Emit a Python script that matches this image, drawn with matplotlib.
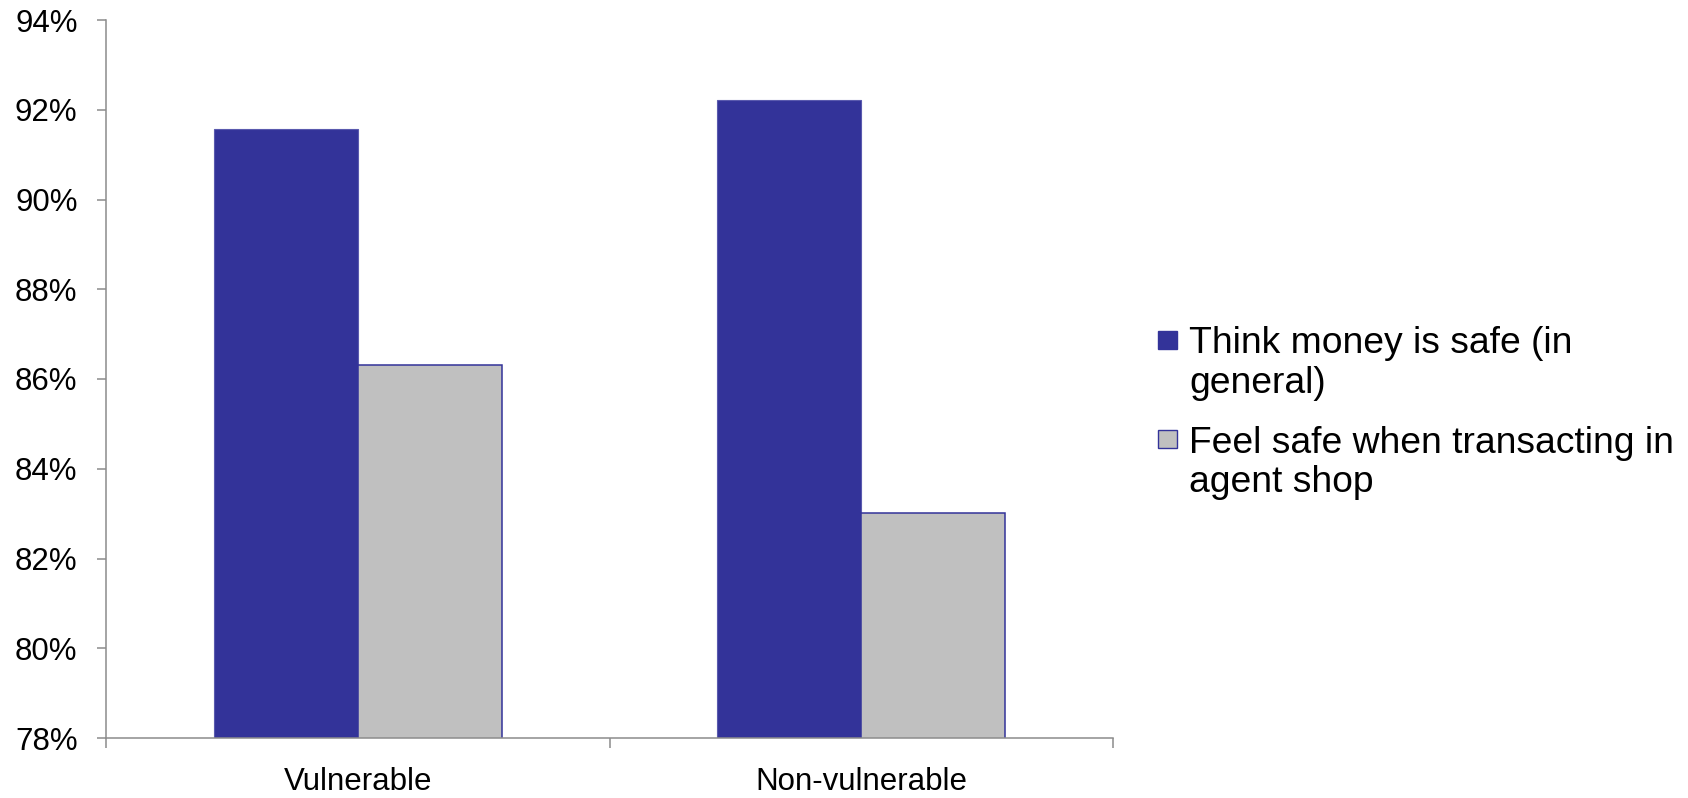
import matplotlib
matplotlib.use("Agg")
import matplotlib.pyplot as plt
from matplotlib.patches import Rectangle
import numpy as np

# Survey results: share of respondents (%)
categories = ["Vulnerable", "Non-vulnerable"]
series_names = ["Think money is safe (in\ngeneral)",
                "Feel safe when transacting in\nagent shop"]
think_safe = [91.56, 92.22]
feel_safe_agent = [86.31, 83.02]
y_ticks = [78, 80, 82, 84, 86, 88, 90, 92, 94]
y_tick_labels = [f"{t}%" for t in y_ticks]

BLUE = "#333399"
GRAY = "#C0C0C0"
AXIS = "#8C8C8C"

plt.rcParams["font.family"] = ["Liberation Sans", "DejaVu Sans"]

W, H = 1688, 798
fig = plt.figure(figsize=(W / 100, H / 100), dpi=100)

# axes rectangle in pixel terms
left_px, right_px, top_px, bottom_px = 106, 1113, 20, 738
ax = fig.add_axes([left_px / W, 1 - bottom_px / H,
                   (right_px - left_px) / W, (bottom_px - top_px) / H])

x = np.arange(len(categories))
width = 1 / 3.5  # gap width 150%
ax.bar(x - width / 2, think_safe, width, color=BLUE, edgecolor="#5a5aae",
       linewidth=0.8)
ax.bar(x + width / 2, feel_safe_agent, width, color=GRAY, edgecolor=BLUE,
       linewidth=1.1)

ax.set_ylim(78, 94)
ax.set_xlim(-0.5, len(categories) - 0.5)

ax.set_yticks(y_ticks)
ax.set_yticklabels(y_tick_labels, fontsize=22.5, color="black")
ax.tick_params(axis="y", direction="out", length=6.5, width=1.1,
               color=AXIS, pad=14)

# category boundaries get tick marks, centres get labels
ax.set_xticks(np.arange(-0.5, len(categories), 1.0))
ax.set_xticklabels([])
ax.tick_params(axis="x", which="major", direction="out", length=7.2,
               width=1.1, color=AXIS)
ax.set_xticks(x, minor=True)
ax.set_xticklabels(categories, minor=True, fontsize=22.5, color="black")
ax.tick_params(axis="x", which="minor", length=0, pad=21)

for side in ("top", "right"):
    ax.spines[side].set_visible(False)
for side in ("left", "bottom"):
    ax.spines[side].set_color(AXIS)
    ax.spines[side].set_linewidth(1.1)

# legend drawn with pixel placement
def px(xp, yp):
    return xp / W, 1 - yp / H

legend_fs = 26.8
entries = [
    (BLUE, "#333399", 331, 349, series_names[0].split("\n"), [353, 393]),
    (GRAY, BLUE, 430, 448, series_names[1].split("\n"), [453, 492]),
]
for face, edge, ytop, ybot, lines, baselines in entries:
    x0, y0 = px(1158, ybot)
    fig.patches.append(Rectangle((x0, y0), 19 / W, (ybot - ytop) / H,
                                 transform=fig.transFigure, facecolor=face,
                                 edgecolor=edge, linewidth=1.0))
    for line, base in zip(lines, baselines):
        tx, ty = px(1189, base)
        fig.text(tx, ty, line, fontsize=legend_fs, va="baseline",
                 ha="left", color="black")

fig.savefig("out.png", dpi=100)
